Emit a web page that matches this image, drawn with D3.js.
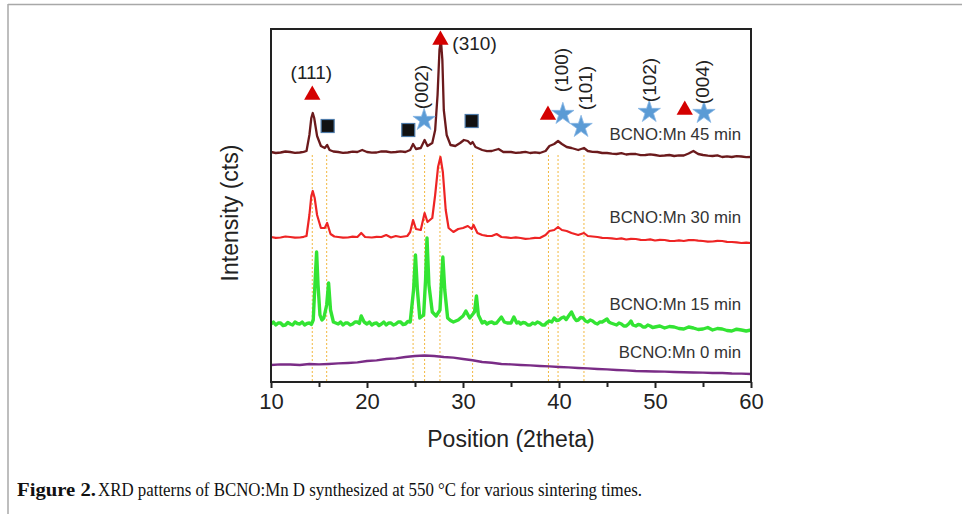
<!DOCTYPE html>
<html><head><meta charset="utf-8">
<script src="https://cdn.jsdelivr.net/npm/d3@7/dist/d3.min.js"></script>
<style>
html,body{margin:0;padding:0;background:#fff;}
svg{display:block;}
</style></head>
<body><svg id="c" width="962" height="514"></svg>
<script>
// ---------- data (2theta, intensity in cts, stacked with offsets) ----------
const xTicks = [10, 20, 30, 40, 50, 60];
const seriesNames = ["BCNO:Mn 45 min", "BCNO:Mn 30 min", "BCNO:Mn 15 min", "BCNO:Mn 0 min"];
const seriesColors = ["#6b1a1c", "#ee2424", "#33e433", "#7a2c86"];

const pattern45 = [[10,2300],[10.5,2290],[11,2295],[11.5,2305],[12,2300],[12.5,2292],[13,2295],[13.4,2302],[13.7,2310],[14.0,2470],[14.2,2640],[14.35,2690],[14.5,2640],[14.8,2460],[15.2,2360],[15.6,2340],[15.85,2370],[16.1,2320],[16.5,2305],[17,2300],[17.5,2292],[18,2295],[18.5,2303],[19,2300],[19.5,2320],[20,2300],[20.5,2293],[21,2295],[21.5,2307],[22,2305],[22.5,2296],[23,2300],[23.5,2306],[24,2300],[24.5,2320],[24.8,2380],[25.1,2330],[25.6,2340],[26.0,2420],[26.3,2360],[26.8,2390],[27.1,2520],[27.35,2870],[27.55,3320],[27.7,3420],[27.85,3220],[28.0,2720],[28.3,2470],[28.7,2370],[29.2,2360],[29.7,2390],[30.1,2420],[30.5,2410],[30.8,2380],[31.0,2400],[31.3,2350],[32,2320],[32.5,2308],[33,2310],[33.7,2330],[34.2,2300],[35,2300],[35.5,2292],[36,2295],[36.5,2302],[37,2290],[37.5,2296],[38,2290],[38.6,2310],[39,2360],[39.5,2380],[39.9,2410],[40.3,2380],[40.8,2350],[41.3,2340],[42,2320],[42.6,2340],[43,2310],[43.5,2302],[44,2300],[44.5,2290],[45,2290],[45.5,2284],[46,2280],[46.5,2288],[47,2275],[47.5,2282],[48,2280],[48.5,2268],[49,2270],[49.5,2276],[50,2270],[50.5,2262],[51,2265],[51.5,2270],[52,2260],[52.5,2266],[53,2265],[53.5,2285],[54,2310],[54.5,2280],[55,2270],[55.5,2264],[56,2260],[56.5,2266],[57,2250],[57.5,2256],[58,2250],[58.5,2258],[59,2255],[59.5,2248],[60,2250]];

const pattern30 = [[10,1450],[10.5,1442],[11,1445],[11.5,1455],[12,1450],[12.5,1443],[13,1445],[13.4,1452],[13.7,1460],[14.0,1670],[14.2,1860],[14.35,1910],[14.55,1840],[14.8,1670],[15.2,1540],[15.6,1540],[15.85,1590],[16.2,1480],[16.6,1455],[17,1450],[17.5,1444],[18,1445],[18.5,1453],[19,1450],[19.4,1490],[19.8,1450],[20.5,1445],[21,1452],[21.5,1450],[22,1470],[22.5,1445],[23,1460],[23.5,1450],[24.2,1460],[24.5,1500],[24.8,1620],[25.1,1530],[25.6,1520],[26.0,1690],[26.3,1600],[26.8,1640],[27.1,1870],[27.4,2150],[27.65,2250],[27.9,2100],[28.2,1720],[28.5,1540],[29,1500],[29.5,1530],[30,1540],[30.5,1560],[30.9,1530],[31.1,1570],[31.5,1490],[32,1470],[32.5,1462],[33,1460],[33.5,1480],[34,1450],[34.5,1446],[35,1440],[35.5,1446],[36,1440],[36.5,1432],[37,1435],[37.5,1442],[38,1440],[38.6,1470],[39,1510],[39.5,1520],[39.9,1550],[40.3,1520],[40.8,1510],[41.3,1490],[42,1470],[42.6,1490],[43,1460],[43.5,1455],[44,1450],[44.5,1442],[45,1440],[45.5,1436],[46,1430],[46.5,1436],[47,1425],[47.5,1432],[48,1430],[48.5,1422],[49,1420],[49.5,1426],[50,1415],[50.5,1422],[51,1420],[51.5,1412],[52,1410],[52.5,1416],[53,1410],[53.5,1418],[54,1420],[54.5,1414],[55,1410],[55.5,1404],[56,1405],[56.5,1412],[57,1410],[57.5,1402],[58,1400],[58.5,1396],[59,1390],[59.5,1394],[60,1390]];

const pattern15 = [[10,580],[10.25,600],[10.5,570],[10.75,590],[11,590],[11.25,565],[11.5,570],[11.75,595],[12,580],[12.25,570],[12.5,600],[12.75,585],[13,580],[13.25,600],[13.5,570],[13.75,585],[14,590],[14.2,575],[14.4,620],[14.6,1020],[14.75,1300],[14.9,970],[15.1,670],[15.3,620],[15.5,640],[15.8,770],[16.0,990],[16.2,720],[16.5,600],[16.75,590],[17,580],[17.25,600],[17.5,570],[17.75,590],[18,590],[18.25,570],[18.5,580],[18.75,600],[19,600],[19.2,585],[19.4,660],[19.7,600],[20,580],[20.25,600],[20.5,570],[20.75,585],[21,590],[21.25,565],[21.5,580],[21.75,600],[22,570],[22.25,590],[22.5,590],[22.75,570],[23,580],[23.25,600],[23.5,600],[23.75,575],[24,580],[24.25,605],[24.5,600],[24.85,920],[25.05,1270],[25.25,920],[25.5,640],[25.9,670],[26.1,1020],[26.25,1440],[26.45,970],[26.8,700],[27.2,660],[27.6,720],[27.9,1250],[28.1,920],[28.4,640],[28.7,615],[29,600],[29.5,620],[30,660],[30.3,710],[30.7,640],[31.2,700],[31.4,860],[31.6,670],[32,590],[32.25,605],[32.5,580],[32.75,595],[33,600],[33.25,585],[33.5,590],[34,650],[34.3,600],[34.6,590],[35,590],[35.3,650],[35.6,590],[35.8,600],[36,580],[36.25,595],[36.5,590],[36.75,570],[37,570],[37.25,590],[37.5,580],[37.75,600],[38,590],[38.25,570],[38.5,570],[38.75,595],[39,610],[39.25,600],[39.5,640],[39.75,615],[40,620],[40.25,640],[40.5,650],[40.75,625],[41,660],[41.3,700],[41.6,640],[41.8,615],[42,620],[42.25,645],[42.5,640],[42.75,610],[43,600],[43.25,620],[43.5,610],[43.75,590],[44,580],[44.25,600],[44.5,600],[44.75,615],[45,630],[45.2,600],[45.4,590],[45.7,580],[46,570],[46.25,590],[46.5,580],[46.75,560],[47,560],[47.3,585],[47.5,610],[47.7,570],[48,560],[48.25,575],[48.5,570],[48.75,550],[49,550],[49.25,570],[49.5,560],[49.75,545],[50,550],[50.5,560],[51,540],[51.5,555],[52,550],[52.5,535],[53,530],[53.5,550],[54,540],[54.5,525],[55,530],[55.5,545],[56,520],[56.5,535],[57,530],[57.5,515],[58,510],[58.5,528],[59,520],[59.5,510],[60,520]];

const pattern0 = [[10,170],[11,176],[12,175],[13,170],[14,180],[15,176],[16,180],[17,186],[18,190],[19,196],[20,210],[21,216],[22,230],[23,236],[24,250],[25,260],[26,265],[26.5,262],[27,260],[28,250],[29,244],[30,230],[31,218],[32,200],[33,192],[34,180],[35,176],[36,170],[37,166],[38,160],[39,156],[40,150],[41,146],[42,140],[43,136],[44,130],[45,126],[46,120],[47,116],[48,110],[49,108],[50,105],[51,104],[52,100],[53,98],[54,95],[55,94],[56,90],[57,90],[58,85],[59,84],[60,80]];

const patterns = [pattern45, pattern30, pattern15, pattern0];

// reference peak positions (2theta)
const refLines = [14.3, 15.8, 24.8, 26.0, 27.6, 31.0, 38.9, 39.9, 42.6];
// phase markers [2theta, intensity]
const triangles = [[14.3, 2870], [27.65, 3420], [38.85, 2670], [53.1, 2720]];
const stars = [[25.95, 2620], [40.4, 2680], [42.3, 2550], [49.4, 2700], [55.1, 2690]];
const squares = [[15.9, 2560], [24.3, 2520], [30.9, 2610]];
// hkl labels [text, 2theta, intensity, rotated]
const hklLabels = [["(111)", 14.2, 3030, false], ["(310)", 31.2, 3320, false], ["(002)", 25.7, 2950, true], ["(100)", 40.3, 3120, true], ["(101)", 42.8, 2940, true], ["(102)", 49.4, 3020, true], ["(004)", 54.9, 3000, true]];
// series label intensities
const seriesLabelY = [2420, 1590, 720, 240];

// ---------- drawing ----------
const svg = d3.select("#c");
const L = 271, R = 751, T = 29, B = 382;
const x = d3.scaleLinear().domain([10, 60]).range([L, R]);
const y = d3.scaleLinear().domain([0, 3530]).range([B, T]);
const SANS = "Liberation Sans, Arial, sans-serif";

// outer frame lines
svg.append("line").attr("x1", 8).attr("x2", 962).attr("y1", 4.5).attr("y2", 4.5).attr("stroke", "#a8a8a8").attr("stroke-width", 1.5);
svg.append("line").attr("x1", 8).attr("x2", 8).attr("y1", 4).attr("y2", 514).attr("stroke", "#a8a8a8").attr("stroke-width", 1.5);

// reference dotted lines
svg.append("g").selectAll("line").data(refLines).join("line")
  .attr("x1", d => x(d)).attr("x2", d => x(d))
  .attr("y1", y(2270)).attr("y2", B)
  .attr("stroke", "#f2b840").attr("stroke-width", 1).attr("stroke-dasharray", "2,2");

// curves
const line = d3.line().x(d => x(d[0])).y(d => y(d[1]));
const widths = [2.3, 2.2, 3.4, 2.4];
svg.append("g").selectAll("path").data(patterns).join("path")
  .attr("d", d => line(d)).attr("fill", "none")
  .attr("stroke", (d, i) => seriesColors[i]).attr("stroke-width", (d, i) => widths[i])
  .attr("stroke-linejoin", "round");

// frame
svg.append("rect").attr("x", L).attr("y", T).attr("width", R - L).attr("height", B - T)
  .attr("fill", "none").attr("stroke", "#222").attr("stroke-width", 2);

// x axis
const xAxis = d3.axisBottom(x).tickValues(xTicks).tickSize(6).tickSizeOuter(0).tickPadding(5);
const gx = svg.append("g").attr("transform", `translate(0,${B})`).call(xAxis);
gx.select(".domain").remove();
gx.selectAll(".tick line").attr("stroke", "#222").attr("stroke-width", 2);
gx.selectAll(".tick text").attr("font-family", SANS).attr("font-size", 22).attr("fill", "#222");
const xMinor = d3.axisBottom(x).tickValues([15, 25, 35, 45, 55]).tickSize(5).tickFormat("");
const gm = svg.append("g").attr("transform", `translate(0,${B})`).call(xMinor);
gm.select(".domain").remove();
gm.selectAll(".tick line").attr("stroke", "#222").attr("stroke-width", 2);

// axis titles
svg.append("text").attr("x", (L + R) / 2).attr("y", 447).attr("text-anchor", "middle")
  .attr("font-family", SANS).attr("font-size", 23).attr("fill", "#222")
  .text("Position (2theta)");
svg.append("text").attr("transform", `translate(238,213) rotate(-90)`).attr("text-anchor", "middle")
  .attr("font-family", SANS).attr("font-size", 23).attr("fill", "#222")
  .text("Intensity (cts)");

// series labels
svg.append("g").selectAll("text").data(seriesNames).join("text")
  .attr("x", 741).attr("y", (d, i) => y(seriesLabelY[i])).attr("text-anchor", "end")
  .attr("font-family", SANS).attr("font-size", 16.8).attr("fill", "#333")
  .text(d => d);

// markers
const tri = d3.symbol().type(d3.symbolTriangle).size(115);
svg.append("g").selectAll("path").data(triangles).join("path")
  .attr("d", tri).attr("transform", d => `translate(${x(d[0])},${y(d[1])})`)
  .attr("fill", "#d40000");
const star = d3.symbol().type(d3.symbolStar).size(155);
svg.append("g").selectAll("path").data(stars).join("path")
  .attr("d", star).attr("transform", d => `translate(${x(d[0])},${y(d[1])})`)
  .attr("fill", "#5b9bd5").attr("stroke", "#8ab8e6").attr("stroke-width", 0.8);
svg.append("g").selectAll("rect").data(squares).join("rect")
  .attr("x", d => x(d[0]) - 6.5).attr("y", d => y(d[1]) - 6.5).attr("width", 13).attr("height", 13)
  .attr("fill", "#111").attr("stroke", "#4d7aa8").attr("stroke-width", 1.2);

// hkl labels
svg.append("g").selectAll("text").data(hklLabels).join("text")
  .attr("transform", d => d[3] ? `translate(${x(d[1])},${y(d[2])}) rotate(-90)` : `translate(${x(d[1])},${y(d[2])})`)
  .attr("text-anchor", "middle").attr("dominant-baseline", d => d[3] ? "central" : "auto")
  .attr("font-family", SANS).attr("font-size", 19).attr("fill", "#222")
  .text(d => d[0]);

// caption
const SERIF = "Liberation Serif, Times New Roman, serif";
svg.append("text").attr("x", 17).attr("y", 496).attr("font-family", SERIF).attr("font-weight", "bold")
  .attr("font-size", 19).attr("fill", "#111").attr("textLength", 79).attr("lengthAdjust", "spacingAndGlyphs")
  .text("Figure 2.");
svg.append("text").attr("x", 98).attr("y", 496).attr("font-family", SERIF)
  .attr("font-size", 18).attr("fill", "#111").attr("textLength", 544).attr("lengthAdjust", "spacingAndGlyphs")
  .text("XRD patterns of BCNO:Mn D synthesized at 550 \u00b0C for various sintering times.");
</script>
</body></html>
